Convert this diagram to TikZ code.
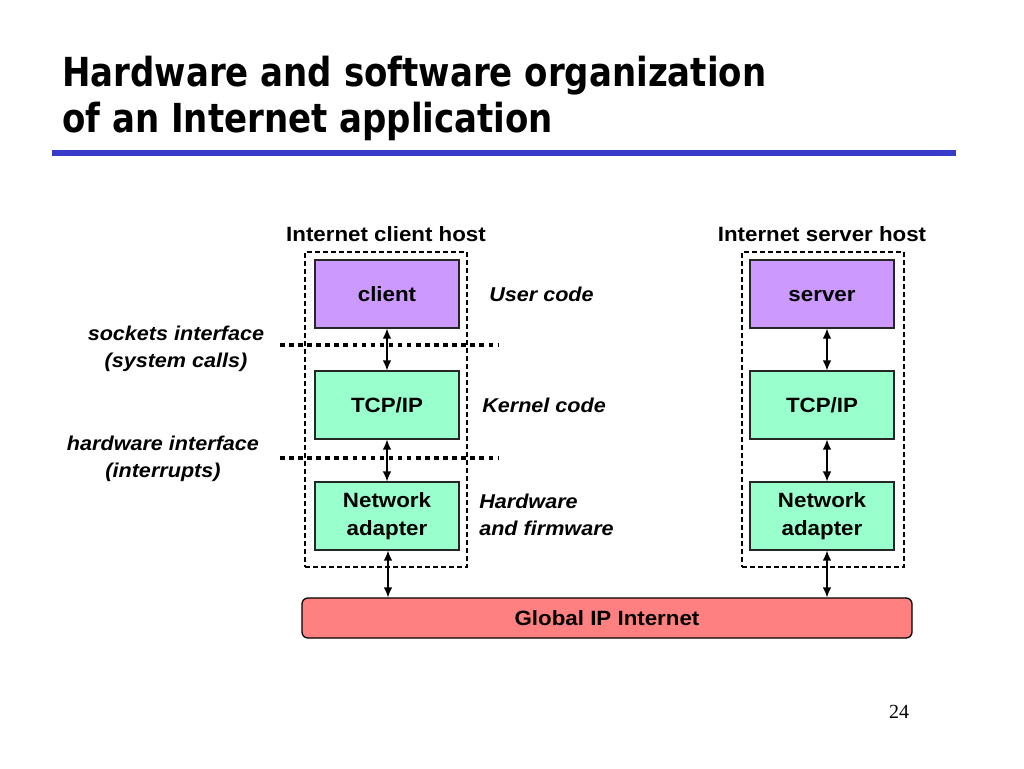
\documentclass[tikz,border=0pt]{standalone}
\usepackage{fontspec}
\setmainfont{Liberation Sans}
\newfontfamily\labfont[FakeStretch=1.08]{Liberation Sans}
\newfontfamily\titlefont[FakeStretch=0.85]{DejaVu Sans}
\newfontfamily\numfont{Liberation Serif}
\usetikzlibrary{arrows.meta,fit}
\definecolor{userpurple}{RGB}{204,153,255}
\definecolor{kernelgreen}{RGB}{153,255,204}
\definecolor{netred}{RGB}{255,128,128}
\definecolor{ruleblue}{RGB}{58,58,200}
\begin{document}
\begin{tikzpicture}[x=0.75pt,y=-0.75pt,
  lab/.style={font=\labfont\bfseries\fontsize{15.5}{20.5}\selectfont, inner sep=0pt},
  ilab/.style={font=\labfont\bfseries\itshape\fontsize{15}{20.5}\selectfont, inner sep=0pt},
  layer/.style={draw=black!85, line width=0.9pt, minimum width=108pt, minimum height=51pt, lab, align=center},
  userbox/.style={layer, fill=userpurple},
  kernbox/.style={layer, fill=kernelgreen},
  netbox/.style={draw=black, line width=1pt, fill=netred, rounded corners=4.5pt, minimum width=457.5pt, minimum height=30pt, lab},
  hostbox/.style={draw, dash pattern=on 3.75pt off 2.25pt, line width=0.9pt, inner sep=0pt},
  biarrow/.style={{Latex[length=7.5pt,width=6.5pt]}-{Latex[length=7.5pt,width=6.5pt]}, line width=1pt},
  dotline/.style={line width=3.2pt, dash pattern=on 3.4pt off 3.4pt},
  titletext/.style={anchor=base west, inner sep=0pt, font=\titlefont\bfseries\fontsize{30}{36}\selectfont},
]
\useasboundingbox (0,0) rectangle (1024,768);
\fill[white] (0,0) rectangle (1024,768);

% title
\node[titletext] (t1) at (62,86) {Hardware and software organization};
\node[titletext] (t2) at (62,132) {of an Internet application};
\coordinate (r1) at (52,153);
\coordinate (r2) at (956,153);
\draw[ruleblue, line width=4.5pt] (r1) -- (r2);

% host containers
\coordinate (ch1) at (305,252); \coordinate (ch2) at (467,567);
\coordinate (sh1) at (742,252); \coordinate (sh2) at (904,567);
\node[hostbox, fit=(ch1)(ch2)] (chost) {};
\node[hostbox, fit=(sh1)(sh2)] (shost) {};
\node[lab] (chostlab) at (386,234) {Internet client host};
\node[lab] (shostlab) at (822,234) {Internet server host};

% interface dotted lines
\coordinate (d1a) at (280,345); \coordinate (d1b) at (498,345);
\coordinate (d2a) at (280,458); \coordinate (d2b) at (498,458);
\draw[dotline] (d1a) -- (d1b);
\draw[dotline] (d2a) -- (d2b);

% client stack
\node[userbox] (client) at (387,294) {client};
\node[kernbox] (ctcp) at (387,405) {TCP/IP};
\node[kernbox] (cnet) at (387,516) {Network\\adapter};

% server stack
\node[userbox] (server) at (822,294) {\vphantom{l}server};
\node[kernbox] (stcp) at (822,405) {TCP/IP};
\node[kernbox] (snet) at (822,516) {Network\\adapter};

% internet
\node[netbox] (inet) at (607,618) {Global IP Internet};

% arrows
\draw[biarrow] (client.south) -- (ctcp.north);
\draw[biarrow] (ctcp.south) -- (cnet.north);
\draw[biarrow] ([xshift=0.75pt]cnet.south) -- ([xshift=0.75pt]cnet.south |- inet.north);
\draw[biarrow] ([xshift=3.75pt]server.south) -- ([xshift=3.75pt]stcp.north);
\draw[biarrow] ([xshift=3.75pt]stcp.south) -- ([xshift=3.75pt]snet.north);
\draw[biarrow] ([xshift=3.75pt]snet.south) -- ([xshift=3.75pt]snet.south |- inet.north);

% side labels
\node[ilab, anchor=west] (ucode) at (489,294) {User code};
\node[ilab, anchor=west] (kcode) at (482,405) {Kernel code};
\node[ilab, anchor=west, align=left] (hcode) at (479,515) {Hardware\\and firmware};
\node[ilab, align=center] (sock) at (176,349) {sockets interface\\(system calls)};
\node[ilab, align=center] (hwif) at (163,459) {hardware interface\\(interrupts)};

% page number
\node[font=\numfont\fontsize{15}{18}\selectfont, inner sep=0pt] (pg) at (899,712) {24};
\end{tikzpicture}
\end{document}
